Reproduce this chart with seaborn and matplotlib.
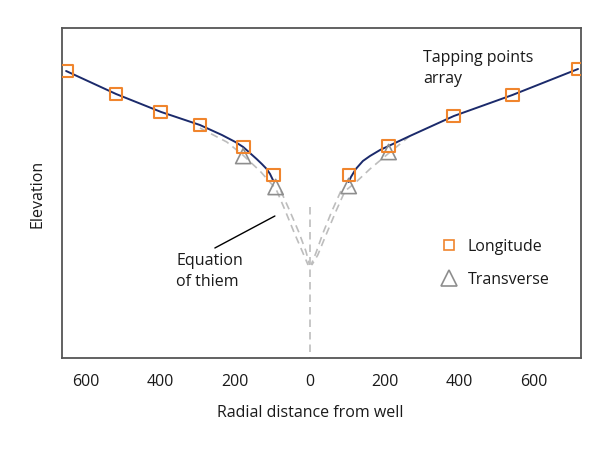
import matplotlib
matplotlib.use("Agg")
import matplotlib.pyplot as plt
from matplotlib.lines import Line2D
import seaborn as sns

# ---- data ----
long_x = [-654, -520, -400, -295, -179, -97, 105, 211, 386, 543, 719]
long_y = [287, 264, 246, 233, 211, 183, 183, 212, 242, 263, 289]

trans_x = [-179, -92, 104, 211]
trans_y = [202, 171, 172, 206]

# measured (solid) drawdown curve, left and right branches
fit_left_x = [-654, -520, -399, -295, -236, -200, -179, -161, -143, -129, -116, -107, -98]
fit_left_y = [287, 264, 246, 233, 223, 216, 211, 205, 199, 194, 189, 184, 177]
fit_right_x = [104, 110, 123, 142, 161, 188, 211, 268, 386, 543, 719]
fit_right_y = [176, 181, 189, 197, 202, 208, 212, 222, 242, 263, 289]

# Thiem equation (dashed) curves
thiem_la_x = [-295, -223, -180, -134, -91, -67, -43, -21, -5]
thiem_la_y = [230, 216, 203, 187, 169, 148, 126, 107, 93]
thiem_lb_x = [-78, -54, -30, -11, -1]
thiem_lb_y = [167, 147, 126, 107, 93]
thiem_ra_x = [268, 212, 161, 121, 94, 70, 43, 21, 5]
thiem_ra_y = [222, 205, 189, 175, 167, 147, 123, 103, 93]
thiem_rb_x = [83, 59, 35, 16, 3]
thiem_rb_y = [167, 147, 125, 105, 93]
well_x = [0, 0]
well_y = [151, 0]

xticks = [-600, -400, -200, 0, 200, 400, 600]
xticklabels = ["600", "400", "200", "0", "200", "400", "600"]

# ---- style ----
sns.set_theme(style="white")
plt.rcParams['font.family'] = ['Open Sans', 'DejaVu Sans']
FS = 11.5
plt.rcParams['font.size'] = FS

ORANGE = "#F0852D"
GRAY = "#8E8E8E"
NAVY = "#1B2A6B"
DASH = "#BDBDBD"
TEXT = "#1a1a1a"

fig = plt.figure(figsize=(6.0, 4.52), dpi=100)
ax = fig.add_axes([62/600, 1-359/452, (581-62)/600, (359-29)/452])

dash_style = (0, (4.5, 3.0))
for xs, ys in [(thiem_la_x, thiem_la_y), (thiem_lb_x, thiem_lb_y),
               (thiem_ra_x, thiem_ra_y), (thiem_rb_x, thiem_rb_y),
               (well_x, well_y)]:
    sns.lineplot(x=xs, y=ys, ax=ax, sort=False, estimator=None,
                 color=DASH, lw=1.2, linestyle=dash_style, zorder=1)

for xs, ys in [(fit_left_x, fit_left_y), (fit_right_x, fit_right_y)]:
    sns.lineplot(x=xs, y=ys, ax=ax, sort=False, estimator=None,
                 color=NAVY, lw=1.4, zorder=2)

sns.scatterplot(x=trans_x, y=trans_y, ax=ax, marker="^", s=120,
                facecolors="none", edgecolor=GRAY, linewidth=1.2, zorder=3)
sns.scatterplot(x=long_x, y=long_y, ax=ax, marker="s", s=85,
                facecolors="none", edgecolor=ORANGE, linewidth=1.5, zorder=4)

ax.set_xlim(-665, 727)
ax.set_ylim(0, 330)
ax.set_xticks(xticks)
ax.set_xticklabels(xticklabels)
ax.set_yticks([])
ax.tick_params(axis="x", direction="in", length=6, width=1.2,
               color="#333333", pad=10.5, labelsize=FS, labelcolor=TEXT)
for sp in ax.spines.values():
    sp.set_color("#555555")
    sp.set_linewidth(1.3)
    sp.set_visible(True)

ax.set_xlabel("Radial distance from well", fontsize=FS, color=TEXT)
ax.xaxis.set_label_coords((310 - 62) / 519, -0.14)
ax.set_ylabel("Elevation", fontsize=FS, color=TEXT, labelpad=12)

# annotations
ax.annotate("", xy=(-94, 142), xytext=(-255, 110),
            arrowprops=dict(arrowstyle="-", color="black", lw=1.0,
                            shrinkA=0, shrinkB=0))
ax.text(-359, 106, "Equation\nof thiem", ha="left", va="top",
        fontsize=FS, color=TEXT, linespacing=1.42)
ax.text(304, 309, "Tapping points\narray", ha="left", va="top",
        fontsize=FS, color=TEXT, linespacing=1.42)

handles = [
    Line2D([], [], ls="", marker="s", ms=6.5, mfc="none", mec=ORANGE, mew=1.2),
    Line2D([], [], ls="", marker="^", ms=12, mfc="none", mec=GRAY, mew=1.2),
]
ax.legend(handles, ["Longitude", "Transverse"], loc="upper left",
          bbox_to_anchor=(0.728, 0.363), frameon=False, borderpad=0,
          borderaxespad=0, handlelength=1.2, handletextpad=0.55,
          labelspacing=1.08, fontsize=FS, labelcolor=TEXT)

fig.savefig("out.png", dpi=100)
